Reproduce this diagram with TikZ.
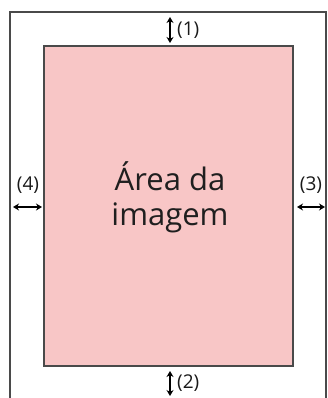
\documentclass[tikz,border=0pt]{standalone}
\usepackage{fontspec}
\setmainfont{Open Sans}
\usetikzlibrary{arrows.meta}
\definecolor{areapink}{HTML}{F8C6C6}
\definecolor{edgegray}{HTML}{4A4A4A}
\begin{document}
\begin{tikzpicture}[x=1pt,y=-1pt,
  outerline/.style={draw=edgegray,line width=1.6pt},
  innerbox/.style={draw=edgegray,line width=1.6pt,fill=areapink},
  dimarrow/.style={line width=1.6pt,{Stealth[length=6pt,width=7pt]}-{Stealth[length=6pt,width=7pt]}},
  lbl/.style={font=\fontsize{19}{21}\selectfont,inner sep=0pt,text=black!90}]
\useasboundingbox (0,0) rectangle (327,398);
\draw[outerline] (10,400) -- (10,12) -- (326,12) -- (326,400);
\draw[innerbox] (44,46) rectangle (293,366);
\node[font=\fontsize{31}{35}\selectfont,align=center,text=black!88] (t) at (170,197) {Área da\\imagem};
\coordinate (a1) at (170,17);
\coordinate (b1) at (170,43);
\draw[dimarrow] (a1) -- (b1);
\node[lbl,anchor=west] (l1) at (177,30) {(1)};
\coordinate (a2) at (170,371);
\coordinate (b2) at (170,396);
\draw[dimarrow] (a2) -- (b2);
\node[lbl,anchor=west] (l2) at (177,383) {(2)};
\coordinate (a4) at (13,207);
\coordinate (b4) at (42,207);
\draw[dimarrow] (a4) -- (b4);
\node[lbl] (l4) at (28,185) {(4)};
\coordinate (a3) at (297,207);
\coordinate (b3) at (325,207);
\draw[dimarrow] (a3) -- (b3);
\node[lbl] (l3) at (311,185) {(3)};
\end{tikzpicture}
\end{document}
